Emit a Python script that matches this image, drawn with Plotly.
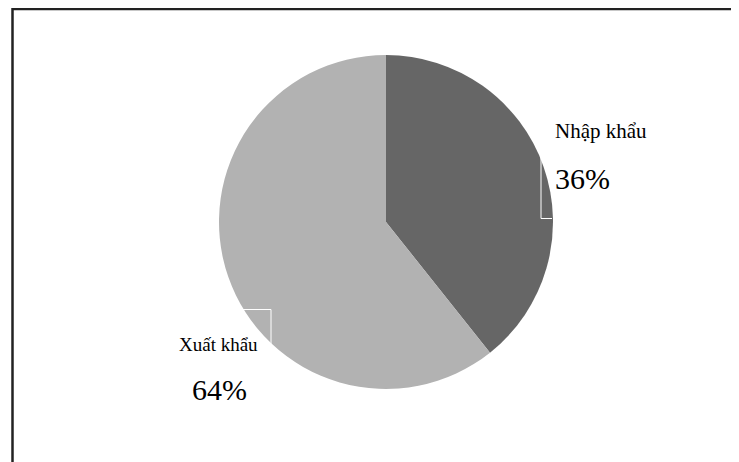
import plotly.graph_objects as go

# Data
categories = ["Nhập khẩu", "Xuất khẩu"]
shares = [39.3, 60.7]          # slice sizes as drawn
pct_labels = ["36%", "64%"]    # percentages printed on the chart
colors = ["#666666", "#b2b2b2"]

OFF = 8                      # page body margin
W, H = 739 - OFF, 462 - OFF
cx, cy, r = 386, 222, 167    # pie centre / radius in page pixels (top-left origin)

def px(x):
    return (x - OFF) / W

def py(y):
    return 1 - (y - OFF) / H

fig = go.Figure(go.Pie(
    labels=categories,
    values=shares,
    sort=False,
    direction="clockwise",
    rotation=0,
    marker=dict(colors=colors, line=dict(width=0)),
    textinfo="none",
    hoverinfo="label+percent",
    showlegend=False,
    domain=dict(x=[px(cx - r), px(cx + r)], y=[py(cy + r), py(cy - r)]),
))

serif = "Liberation Serif, Times New Roman, serif"
ann = []
ann.append(dict(text=categories[0], x=px(553), y=py(131), xanchor="left", yanchor="middle",
                font=dict(family=serif, size=21, color="#000"), width=92, align="left"))
ann.append(dict(text=pct_labels[0], x=px(553), y=py(179), xanchor="left", yanchor="middle",
                font=dict(family=serif, size=30, color="#000")))
ann.append(dict(text=categories[1], x=px(177), y=py(344), xanchor="left", yanchor="middle",
                font=dict(family=serif, size=19, color="#000")))
ann.append(dict(text=pct_labels[1], x=px(190), y=py(389), xanchor="left", yanchor="middle",
                font=dict(family=serif, size=30, color="#000")))
for a in ann:
    a.update(xref="paper", yref="paper", showarrow=False)

shapes = [
    # frame lines (top and left)
    dict(type="line", xref="paper", yref="paper", x0=px(12.5), x1=1.0, y0=py(9), y1=py(9),
         line=dict(color="#222222", width=2.5)),
    dict(type="line", xref="paper", yref="paper", x0=px(12.5), x1=px(12.5), y0=py(8), y1=0.0,
         line=dict(color="#222222", width=2.5)),
    # leader lines (white)
    dict(type="path", xref="paper", yref="paper",
         path=f"M {px(541)} {py(150)} L {px(541)} {py(218.5)} L {px(552)} {py(218.5)}",
         line=dict(color="#ffffff", width=1)),
    dict(type="path", xref="paper", yref="paper",
         path=f"M {px(238)} {py(309.5)} L {px(271)} {py(309.5)} L {px(271)} {py(346)}",
         line=dict(color="#ffffff", width=1)),
]

fig.update_layout(
    width=W, height=H,
    margin=dict(l=0, r=0, t=0, b=0),
    paper_bgcolor="#ffffff",
    plot_bgcolor="#ffffff",
    annotations=ann,
    shapes=shapes,
)

fig.write_html("out.html")
